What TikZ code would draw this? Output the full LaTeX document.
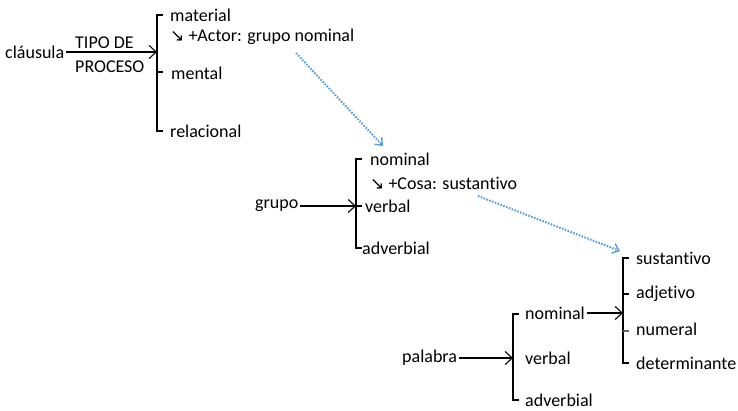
\documentclass[tikz,border=0pt]{standalone}
\usepackage{fontspec}
\setmainfont{Carlito}[Ligatures=NoCommon]
\newfontfamily\symf{DejaVu Sans}
\usetikzlibrary{arrows.meta}
\definecolor{dotblue}{RGB}{91,155,213}
\begin{document}
\begin{tikzpicture}[x=1pt,y=-1pt,
  lbl/.style={anchor=west,inner sep=0pt,font=\fontsize{18}{20}\selectfont},
  brk/.style={line width=1.1pt,black},
  arr/.style={line width=1.1pt,shorten <=1.5pt,-{Straight Barb[length=7pt,width=13pt,line width=1.1pt]}},
  dotarr/.style={draw=dotblue,line width=2pt,dash pattern=on 1.6pt off 1.4pt,
    -{Straight Barb[length=6pt,width=10pt,line width=1.4pt,line cap=butt]}}]
\useasboundingbox (0,0) rectangle (738,410);
\newcommand{\sear}{{\symf\fontsize{17}{17}\selectfont ↘}}

% ---- clausula system
\node[lbl] (claus) at (5,52) {cláusula};
\node[lbl] (tipo) at (75,43) {TIPO DE};
\node[lbl] (proc) at (75,67) {PROCESO};
\coordinate (b1t) at (157,15);
\coordinate (b1b) at (157,131);
\draw[brk] ([xshift=6pt]b1t) -- (b1t) -- (b1b) -- ([xshift=6pt]b1b);
\draw[brk] (157,72) -- (163,72);
\draw[arr] (claus.east) -- (claus.east -| b1t);
\node[lbl] (mat) at (170,15) {material};
\node[lbl] (actor) at (170,37) {\sear\ +Actor: grupo nominal};
\node[lbl] (ment) at (171,73) {mental};
\node[lbl] (rel) at (170,131) {relacional};

% ---- grupo system
\node[lbl] (grupo) at (255,206) {grupo};
\coordinate (b2t) at (356,159);
\coordinate (b2b) at (356,248);
\draw[brk] ([xshift=6pt]b2t) -- (b2t) -- (b2b) -- ([xshift=6pt]b2b);
\draw[brk] (356,206) -- (362,206);
\draw[arr] (grupo.east) -- (grupo.east -| b2t);
\node[lbl] (gnom) at (370,159) {nominal};
\node[lbl] (cosa) at (370,183) {\sear\ +Cosa: sustantivo};
\node[lbl] (gverb) at (365,206) {verbal};
\node[lbl] (gadv) at (362,248) {adverbial};

% ---- palabra system
\node[lbl] (pal) at (402,358) {palabra};
\coordinate (b4t) at (513,314);
\coordinate (b4b) at (513,400);
\draw[brk] ([xshift=6pt]b4t) -- (b4t) -- (b4b) -- ([xshift=6pt]b4b);
\draw[arr] (pal.east) -- (pal.east -| b4t);
\node[lbl] (pnom) at (525,313) {nominal};
\node[lbl] (pverb) at (525,358) {verbal};
\node[lbl] (padv) at (525,400) {adverbial};

% ---- nominal word classes
\coordinate (b3t) at (623,258);
\coordinate (b3b) at (623,363);
\draw[brk] ([xshift=6pt]b3t) -- (b3t) -- (b3b) -- ([xshift=6pt]b3b);
\draw[brk] (623,294) -- (629,294);
\draw[brk,black!60] (623,331) -- (629,331);
\draw[arr] (pnom.east) -- (pnom.east -| b3t);
\node[lbl] (sust) at (636,258) {sustantivo};
\node[lbl] (adj) at (636,294) {adjetivo};
\node[lbl] (num) at (636,329) {numeral};
\node[lbl] (det) at (636,363) {determinante};

% ---- dotted realisation arrows
\coordinate (d1s) at (296,53);
\coordinate (d1e) at (383,146);
\draw[dotarr] (d1s) -- (d1e);
\coordinate (d2s) at (478,196);
\coordinate (d2e) at (620,251);
\draw[dotarr] (d2s) -- (d2e);
\end{tikzpicture}
\end{document}
